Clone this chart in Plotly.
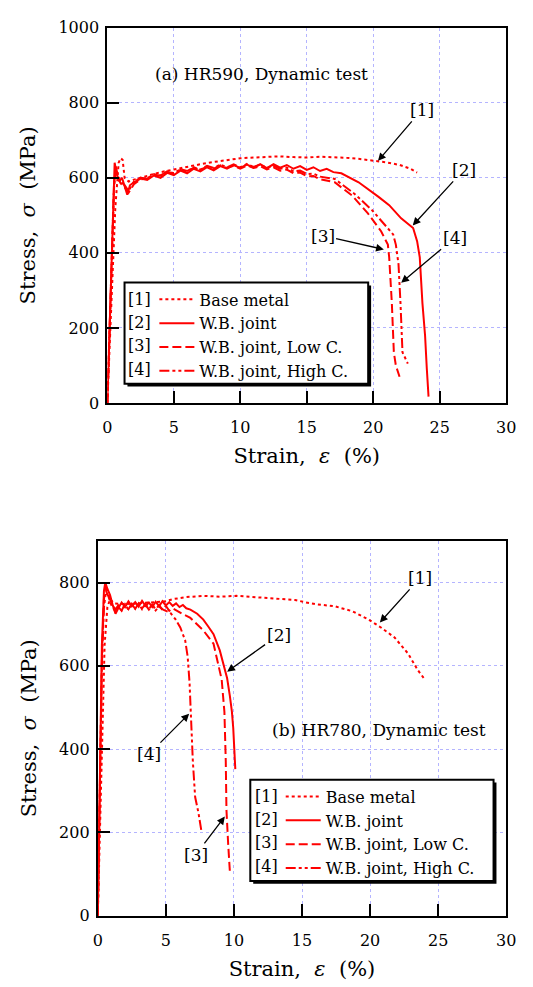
import plotly.graph_objects as go

W, H = 533, 987
FONT = "DejaVu Serif"

# ---------------- (a) HR590 ----------------
base_a_x = [0.0, 0.3, 0.6, 0.85, 1.0, 1.15, 1.3, 1.6, 2.0, 3.0, 4.0, 5.0, 6.0, 7.0, 8.0, 9.0, 10.0, 11.0, 12.0,
            13.0, 14.0, 15.0, 16.0, 17.0, 18.0, 19.0, 20.0, 21.0, 22.0, 22.8, 23.3]
base_a_y = [0, 250, 520, 640, 652, 648, 600, 590, 595, 605, 615, 622, 630, 636, 642, 648, 652, 654, 655,
            657, 655, 654, 656, 655, 653, 650, 646, 641, 634, 624, 614]

wb_a_x = [0.0, 0.2, 0.4, 0.55, 0.7, 0.9, 1.1, 1.3, 1.5, 1.7,
          2.0, 2.5, 3.0, 3.5, 4.0, 4.5, 5.0, 5.5, 6.0, 6.5, 7.0, 7.5, 8.0, 8.5, 9.0, 9.5, 10.0, 10.5, 11.0, 11.5,
          12.0, 12.5, 13.0, 13.5, 14.0, 14.5, 15.0, 15.5, 16.0, 16.5, 17.0,
          17.6, 18.9, 20.4, 21.2, 22.1, 23.0, 23.3, 23.5, 23.7, 23.9, 24.03, 24.16]
wb_a_y = [0, 250, 520, 640, 610, 590, 600, 575, 555, 580,
          588, 598, 594, 606, 600, 613, 607, 619, 612, 624, 617, 628, 620, 631, 624, 634, 626, 635, 627, 636,
          626, 636, 627, 634, 624, 631, 621, 628, 618, 624, 615,
          612, 588, 549, 527, 492, 466, 431, 388, 266, 179, 91, 17]

lowc_a_x = [0.0, 0.25, 0.5, 0.65, 0.8, 1.0, 1.3, 1.6,
            2.0, 2.5, 3.0, 3.5, 4.0, 4.5, 5.0, 5.5, 6.0, 6.5, 7.0, 7.5, 8.0, 8.5, 9.0, 9.5, 10.0, 10.5, 11.0,
            11.5, 12.0, 12.5, 13.0, 13.5, 14.0, 14.5, 15.0, 15.5, 16.0,
            17.1, 18.4, 19.6, 20.6, 21.1, 21.2, 21.4, 21.55, 21.7, 21.98]
lowc_a_y = [0, 300, 580, 630, 600, 585, 575, 560,
            583, 596, 598, 608, 606, 616, 611, 621, 616, 627, 621, 630, 624, 633, 626, 632, 624, 633, 626,
            631, 622, 628, 619, 622, 612, 614, 604, 605, 596,
            588, 553, 505, 457, 422, 388, 266, 135, 100, 70]

highc_a_x = [0.0, 0.25, 0.5, 0.65, 0.8, 1.0, 1.3, 1.6,
             2.0, 2.5, 3.0, 3.5, 4.0, 4.5, 5.0, 5.5, 6.0, 6.5, 7.0, 7.5, 8.0, 8.5, 9.0, 9.5, 10.0, 10.5, 11.0,
             11.5, 12.0, 12.5, 13.0, 13.5, 14.0, 14.5, 15.0, 15.5, 16.0,
             17.1, 18.6, 19.9, 20.9, 21.5, 21.7, 21.9, 22.05, 22.15, 22.2, 22.6]
highc_a_y = [0, 300, 570, 625, 605, 590, 580, 565,
             590, 600, 598, 610, 606, 617, 612, 623, 618, 628, 622, 632, 626, 635, 628, 636, 628, 637, 629,
             635, 626, 632, 624, 627, 617, 619, 610, 611, 603,
             597, 557, 514, 475, 449, 422, 370, 266, 179, 135, 105]

# ---------------- (b) HR780 ----------------
base_b_x = [0.0, 0.15, 0.3, 0.5, 0.7, 0.9, 1.2, 2.0, 3.0, 4.0, 5.0, 5.5, 6.5, 7.75, 9.0, 10.2, 11.4, 12.6, 13.5,
            14.5, 15.3, 16.0, 17.4, 18.7, 19.9, 20.8, 21.8, 22.8, 23.5, 24.0]
base_b_y = [0, 200, 450, 650, 740, 760, 750, 748, 750, 752, 755, 760, 765, 768, 766, 768, 765, 762, 760,
            758, 752, 748, 743, 731, 711, 692, 668, 629, 590, 568]

wb_b_x = [0.0, 0.15, 0.3, 0.45, 0.55, 0.7, 0.9, 1.1, 1.3,
          1.5, 1.75, 2.0, 2.25, 2.5, 2.75, 3.0, 3.25, 3.5, 3.75, 4.0, 4.25, 4.5, 4.75, 5.0, 5.25, 5.5, 5.75,
          6.0, 6.25, 6.5,
          6.8, 7.3, 7.75, 8.1, 8.5, 8.96, 9.3, 9.5, 9.7, 9.85, 9.95, 10.05, 10.1]
wb_b_y = [0, 350, 650, 780, 800, 785, 770, 745, 725,
          738, 752, 741, 755, 743, 753, 742, 756, 744, 752, 741, 754, 743, 755, 745, 753, 744, 750,
          741, 746, 738,
          735, 725, 711, 695, 676, 637, 598, 570, 528, 490, 450, 400, 352]

lowc_b_x = [0.0, 0.15, 0.3, 0.45, 0.6, 0.8, 1.0,
            1.3, 1.5, 1.75, 2.0, 2.25, 2.5, 2.75, 3.0, 3.25, 3.5, 3.75, 4.0, 4.25, 4.5, 4.75, 5.0, 5.25, 5.5,
            6.2, 6.8, 7.75, 8.5, 9.1, 9.3, 9.4, 9.45, 9.57, 9.7]
lowc_b_y = [0, 330, 620, 760, 790, 770, 750,
            735, 745, 733, 748, 736, 749, 737, 750, 738, 748, 736, 747, 735, 746, 734, 744, 732, 738,
            725, 715, 685, 653, 567, 489, 371, 254, 176, 106]

highc_b_x = [0.0, 0.15, 0.3, 0.45, 0.6, 0.8, 1.0,
             1.3, 1.5, 1.75, 2.0, 2.25, 2.5, 2.75, 3.0, 3.25, 3.5, 3.75, 4.0, 4.25, 4.5, 4.8,
             5.33, 5.7, 6.06, 6.42, 6.6, 6.74, 6.83, 6.98, 7.15, 7.4, 7.63]
highc_b_y = [0, 320, 600, 740, 780, 765, 745,
             730, 742, 732, 747, 735, 748, 737, 749, 736, 747, 735, 745, 733, 742, 735,
             727, 712, 692, 661, 622, 559, 489, 371, 285, 246, 199]

series_names = ["Base metal", "W.B. joint", "W.B. joint, Low C.", "W.B. joint, High C."]
series_tags = ["[1]", "[2]", "[3]", "[4]"]
dashes = ["3px,3px", "solid", "9px,4px", "10px,3px,3px,3px,3px,3px"]
RED = "#ff0000"

x_ticks = [0, 5, 10, 15, 20, 25, 30]
y_ticks_a = [0, 200, 400, 600, 800, 1000]
y_ticks_b = [0, 200, 400, 600, 800]


def px(xp):
    return xp / W


def py(yp):
    return 1 - yp / H


fig = go.Figure()

data_a = [(base_a_x, base_a_y), (wb_a_x, wb_a_y), (lowc_a_x, lowc_a_y), (highc_a_x, highc_a_y)]
data_b = [(base_b_x, base_b_y), (wb_b_x, wb_b_y), (lowc_b_x, lowc_b_y), (highc_b_x, highc_b_y)]

for i, (xs, ys) in enumerate(data_a):
    fig.add_trace(go.Scatter(x=xs, y=ys, mode="lines", name=series_names[i],
                             line=dict(color=RED, width=2, dash=dashes[i]),
                             xaxis="x", yaxis="y", legend="legend"))
for i, (xs, ys) in enumerate(data_b):
    fig.add_trace(go.Scatter(x=xs, y=ys, mode="lines", name=series_names[i],
                             line=dict(color=RED, width=2, dash=dashes[i]),
                             xaxis="x2", yaxis="y2", legend="legend2"))

tickfont = dict(family=FONT, size=16, color="black")
titlefont = dict(family=FONT, size=21, color="black")
grid = dict(showgrid=True, gridcolor="#b4b4ff", griddash="dot", gridwidth=1, zeroline=False,
            showline=True, linecolor="black", linewidth=2, mirror=True,
            ticks="inside", ticklen=12, tickwidth=2, tickcolor="black", tickfont=tickfont)

xtitle = "Strain,\u00a0\u00a0<i>ε</i>\u00a0\u00a0(%)"
ytitle = "Stress,\u00a0\u00a0<i>σ</i>\u00a0\u00a0(MPa)"

fig.update_layout(
    width=W, height=H,
    margin=dict(l=0, r=0, t=0, b=0),
    paper_bgcolor="white", plot_bgcolor="white",
    font=dict(family=FONT, color="black"),
    xaxis=dict(domain=[px(105.3), px(515.7)], range=[0, 30], tickvals=x_ticks, anchor="y",
               title=dict(text=xtitle, font=titlefont, standoff=12), ticklabelstandoff=9, **grid),
    yaxis=dict(domain=[py(401.7), py(19)], range=[0, 1000], tickvals=y_ticks_a, anchor="x",
               title=dict(text=ytitle, font=titlefont, standoff=17), ticklabelstandoff=3, **grid),
    xaxis2=dict(domain=[px(95.5), px(515.7)], range=[0, 30], tickvals=x_ticks, anchor="y2",
                title=dict(text=xtitle, font=titlefont, standoff=12), ticklabelstandoff=9, **grid),
    yaxis2=dict(domain=[py(924.5), py(542.3)], range=[0, 900], tickvals=y_ticks_b, anchor="x2",
                title=dict(text=ytitle, font=titlefont, standoff=17), ticklabelstandoff=3, **grid),
    showlegend=True,
)

LEG_FS = 16
row_h = 1.3 * LEG_FS + 3

legend_common = dict(bgcolor="rgba(0,0,0,0)", borderwidth=0, itemwidth=35,
                     font=dict(family=FONT, size=LEG_FS, color="black"),
                     xanchor="left", yanchor="top", traceorder="normal")

legends = [
    # (legend key, box left, box right, box top, sample start, tag x)
    ("legend", 123.0, 373.7, 278.8, 158.7, 138.9),
    ("legend2", 252.4, 502.7, 785.8, 288.7, 268.7),
]
shapes = []
annotations = []
for key, bl, br, bt, samp, tagx in legends:
    bb = bt + 4 * row_h + 8
    fig.update_layout({key: dict(x=px(samp - 5), y=py(bt), **legend_common)})
    shapes.append(dict(type="rect", xref="paper", yref="paper", x0=px(bl + 3), x1=px(br + 3),
                       y0=py(bb + 3), y1=py(bt + 3), fillcolor="black", line=dict(width=0), layer="above"))
    shapes.append(dict(type="rect", xref="paper", yref="paper", x0=px(bl), x1=px(br),
                       y0=py(bb), y1=py(bt), fillcolor="white", line=dict(color="black", width=2),
                       layer="above"))
    for i, tag in enumerate(series_tags):
        yc = bt + 5 + row_h / 2 + i * row_h
        annotations.append(dict(xref="paper", yref="paper", x=px(tagx), y=py(yc), text=tag,
                                showarrow=False, xanchor="center", yanchor="middle",
                                font=dict(family=FONT, size=LEG_FS, color="black")))

# panel labels
annotations.append(dict(xref="paper", yref="paper", x=px(151.8), y=py(66.7), text="(a) HR590, Dynamic test",
                        showarrow=False, xanchor="left", yanchor="middle",
                        font=dict(family=FONT, size=17, color="black")))
annotations.append(dict(xref="paper", yref="paper", x=px(272.8), y=py(735), text="(b) HR780, Dynamic test",
                        showarrow=False, xanchor="left", yanchor="middle",
                        font=dict(family=FONT, size=17, color="black")))

# arrow call-outs: (tag, tip x, tip y, label x, label y)
callouts_a = [("[1]", 20.36, 645, 23.64, 781), ("[2]", 22.97, 473, 26.81, 621),
              ("[3]", 20.8, 409, 16.19, 446), ("[4]", 22.1, 320, 26.12, 440)]
callouts_b = [("[1]", 20.72, 704, 23.67, 811), ("[2]", 9.5, 586, 13.28, 674),
              ("[3]", 9.33, 238, 7.19, 146), ("[4]", 6.71, 485, 3.76, 388)]
for refs, items in (("", callouts_a), ("2", callouts_b)):
    for tag, tx, ty, lx, ly in items:
        annotations.append(dict(xref="x" + refs, yref="y" + refs, axref="x" + refs, ayref="y" + refs,
                                x=tx, y=ty, ax=lx, ay=ly, text=tag, showarrow=True,
                                arrowhead=2, arrowsize=1.2, arrowwidth=1.3, arrowcolor="black",
                                font=dict(family=FONT, size=17, color="black")))

fig.update_layout(shapes=shapes, annotations=annotations)

fig.write_html("out.html", config={"displayModeBar": False},
               post_script="document.body.style.margin='0';document.body.style.padding='0';"
                           "document.documentElement.style.overflow='hidden';window.scrollTo(0,0);")
